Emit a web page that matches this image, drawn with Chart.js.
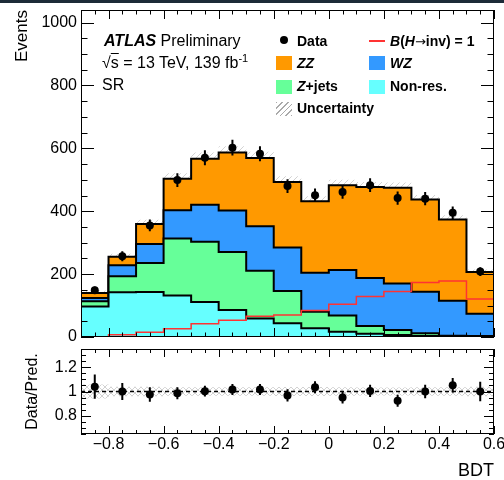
<!DOCTYPE html>
<html>
<head>
<meta charset="utf-8">
<script src="https://cdn.jsdelivr.net/npm/chart.js@4.4.1/dist/chart.umd.min.js"></script>
<style>
  body { margin: 0; background: #fff; }
  #wrap { position: relative; width: 504px; height: 480px; overflow: hidden; font-family: 'Liberation Sans', Arial, sans-serif; color: #000; background: #fff; }
  canvas { position: absolute; left: 0; }
  .txt { position: absolute; white-space: nowrap; font-size: 16px; line-height: 16px; }
  .leg { position: absolute; white-space: nowrap; font-size: 14px; line-height: 14px; font-weight: bold; }
  .box { position: absolute; width: 16px; height: 14px; }
  .arrow { font-family: 'DejaVu Sans', sans-serif; font-weight: normal; font-size: 13px; }
</style>
</head>
<body>
<div id="wrap">
  <canvas id="mainChart" width="504" height="350" style="top:0"></canvas>
  <canvas id="ratioChart" width="504" height="138" style="top:342px"></canvas>

  <div class="txt" style="left:104px;top:33px"><b><i>ATLAS</i></b> Preliminary</div>
  <div class="txt" style="left:102px;top:55px">√<span style="text-decoration:overline">s</span> = 13 TeV, 139 fb<sup style="font-size:11px;vertical-align:6px;line-height:0">-1</sup></div>
  <div class="txt" style="left:102px;top:77px">SR</div>

  <div style="position:absolute;left:280px;top:36px;width:8px;height:8px;border-radius:50%;background:#000"></div>
  <div class="leg" style="left:297px;top:34px">Data</div>
  <div style="position:absolute;left:369px;top:40px;width:16px;height:2px;background:#ff3333"></div>
  <div class="leg" style="left:390px;top:34px"><i>B</i>(<i>H</i><span class="arrow">→</span>inv) = 1</div>

  <div class="box" style="left:276px;top:56px;background:#ff9900"></div>
  <div class="leg" style="left:297px;top:56px"><i>ZZ</i></div>
  <div class="box" style="left:369px;top:56px;background:#3399ff"></div>
  <div class="leg" style="left:390px;top:56px"><i>WZ</i></div>

  <div class="box" style="left:276px;top:80px;background:#66ff99"></div>
  <div class="leg" style="left:297px;top:79px"><i>Z</i>+jets</div>
  <div class="box" style="left:369px;top:80px;background:#66ffff"></div>
  <div class="leg" style="left:390px;top:79px">Non-res.</div>

  <div class="box" style="left:276px;top:102px;background:repeating-linear-gradient(-45deg, #aaa 0 1px, transparent 1px 4px)"></div>
  <div class="leg" style="left:297px;top:101px">Uncertainty</div>

  <div style="position:absolute;left:0;top:0;width:504px;height:3px;background:#1c2b38"></div>
</div>
<script>
// bins of the BDT score
const binEdges = [-0.9, -0.8, -0.7, -0.6, -0.5, -0.4, -0.3, -0.2, -0.1, 0.0, 0.1, 0.2, 0.3, 0.4, 0.5, 0.6];
const binCenters = [-0.85, -0.75, -0.65, -0.55, -0.45, -0.35, -0.25, -0.15, -0.05, 0.05, 0.15, 0.25, 0.35, 0.45, 0.55];

// background components (events per bin), bottom of the stack first
const nonRes = [97, 142, 143, 132, 111, 86, 59, 44, 28, 17, 10, 6, 3, 2, 1];
const zJets  = [17, 51, 92, 181, 192, 184, 152, 102, 52, 51, 25, 16, 9, 2, 2];
const wzBkg  = [10, 35, 61, 90, 118, 132, 141, 139, 124, 145, 153, 148, 132, 111, 71];
const zzBkg  = [16, 27, 63, 100, 146, 185, 217, 208, 228, 270, 289, 305, 293, 259, 133];
const signal = [1, 7, 15, 26, 42, 53, 66, 70, 84, 104, 129, 145, 173, 178, 121];
const systUnc = [8, 10, 14, 18, 20, 20, 20, 18, 16, 17, 16, 16, 15, 13, 8];

// observed data
const dataY   = [149, 257, 355, 499, 570, 602, 583, 480, 451, 461, 483, 442, 440, 395, 208];
const dataErr = [12, 16, 19, 22, 24, 25, 24, 22, 21, 21, 22, 21, 21, 20, 14];

// ratio panel
const ratioY   = [1.04, 1.0, 0.976, 0.986, 1.003, 1.016, 1.016, 0.968, 1.035, 0.951, 1.005, 0.924, 1.0, 1.051, 1.0];
const ratioErr = [0.1, 0.07, 0.06, 0.05, 0.045, 0.045, 0.045, 0.05, 0.05, 0.05, 0.05, 0.05, 0.055, 0.06, 0.08];

// axis ticks
const eventTicks = [0, 200, 400, 600, 800, 1000];
const ratioTicks = [0.8, 1.0, 1.2];
const bdtTicks = [-0.8, -0.6, -0.4, -0.2, 0, 0.2, 0.4, 0.6];

Chart.defaults.font.family = "'Liberation Sans', Arial, sans-serif";
Chart.defaults.color = '#000';

// histogram values -> points on the bin edges (for stepped lines)
function steps(values) {
    return binEdges.map((x, i) => ({ x: x, y: values[Math.min(i, values.length - 1)] }));
}
function addUp(a, b) {
    return a.map((v, i) => v + b[i]);
}

const cumNonRes = nonRes;
const cumZJets = addUp(cumNonRes, zJets);
const cumWZ = addUp(cumZJets, wzBkg);
const cumZZ = addUp(cumWZ, zzBkg);
const relUnc = systUnc.map((u, i) => u / cumZZ[i]);

function makeHatch(cross) {
    const c = document.createElement('canvas');
    c.width = 6;
    c.height = 6;
    const g = c.getContext('2d');
    g.strokeStyle = '#b4b4b4';
    g.lineWidth = 0.6;
    g.beginPath();
    g.moveTo(0, 6); g.lineTo(6, 0);
    if (cross) {
        g.moveTo(0, 0); g.lineTo(6, 6);
    }
    g.stroke();
    return g.createPattern(c, 'repeat');
}

// vertical error bars for datasets carrying an "errors" array
const errorBars = {
    id: 'errorBars',
    afterDatasetsDraw(chart) {
        const ctx = chart.ctx;
        chart.data.datasets.forEach((ds, di) => {
            if (!ds.errors) return;
            const meta = chart.getDatasetMeta(di);
            const ys = chart.scales[meta.yAxisID];
            ctx.save();
            ctx.strokeStyle = '#000';
            ctx.lineWidth = 2;
            ctx.beginPath();
            meta.data.forEach((pt, i) => {
                const v = ds.data[i].y;
                const e = ds.errors[i];
                ctx.moveTo(pt.x, ys.getPixelForValue(v - e));
                ctx.lineTo(pt.x, ys.getPixelForValue(v + e));
            });
            ctx.stroke();
            ctx.restore();
        });
    }
};

// ROOT-like frame with inward tick marks on all four sides
const frameTicks = {
    id: 'frameTicks',
    afterDatasetsDraw(chart, args, o) {
        const { ctx, chartArea: a, scales: { x, y } } = chart;
        const isMajor = (v, step) => Math.abs(v / step - Math.round(v / step)) < 1e-6;
        ctx.save();
        ctx.strokeStyle = '#000';
        ctx.lineWidth = 1;
        ctx.beginPath();
        let k0 = Math.ceil(x.min / o.xMinor - 1e-6), k1 = Math.floor(x.max / o.xMinor + 1e-6);
        for (let k = k0; k <= k1; k++) {
            const v = k * o.xMinor;
            const px = Math.round(x.getPixelForValue(v)) + 0.5;
            const len = isMajor(v, o.xMajor) ? o.xLen : o.xLen / 2;
            ctx.moveTo(px, a.bottom); ctx.lineTo(px, a.bottom - len);
            ctx.moveTo(px, a.top); ctx.lineTo(px, a.top + len);
        }
        k0 = Math.ceil(y.min / o.yMinor - 1e-6);
        k1 = Math.floor(y.max / o.yMinor + 1e-6);
        for (let k = k0; k <= k1; k++) {
            const v = k * o.yMinor;
            const py = Math.round(y.getPixelForValue(v)) + 0.5;
            const len = isMajor(v, o.yMajor) ? o.yLen : o.yLen / 2;
            ctx.moveTo(a.left, py); ctx.lineTo(a.left + len, py);
            ctx.moveTo(a.right, py); ctx.lineTo(a.right - len, py);
        }
        ctx.stroke();
        ctx.strokeRect(Math.round(a.left) + 0.5, Math.round(a.top) + 0.5, Math.round(a.width) - 1, Math.round(a.height) - 1);
        ctx.restore();
    }
};

function stackSet(values, color, fill) {
    return {
        data: steps(values),
        stepped: 'before',
        borderColor: '#000',
        borderWidth: 2,
        backgroundColor: color,
        fill: fill,
        pointRadius: 0,
        order: 3
    };
}

const mainCtx = document.getElementById('mainChart');
new Chart(mainCtx, {
    type: 'line',
    data: {
        datasets: [
            stackSet(cumNonRes, '#66ffff', 'origin'),
            stackSet(cumZJets, '#66ff99', '-1'),
            stackSet(cumWZ, '#3399ff', '-1'),
            stackSet(cumZZ, '#ff9900', '-1'),
            {
                data: steps(addUp(cumZZ, systUnc)),
                stepped: 'before', borderWidth: 0, pointRadius: 0,
                backgroundColor: makeHatch(false), fill: '+1', order: 5
            },
            {
                data: steps(cumZZ.map((v, i) => v - systUnc[i])),
                stepped: 'before', borderWidth: 0, pointRadius: 0, fill: false, order: 5
            },
            {
                data: steps(signal),
                stepped: 'before', borderColor: '#ff3333', borderWidth: 1.5,
                pointRadius: 0, fill: false, order: 1
            },
            {
                data: binCenters.map((x, i) => ({ x: x, y: dataY[i] })),
                showLine: false, pointRadius: 4, pointBackgroundColor: '#000',
                pointBorderWidth: 0, errors: dataErr, order: 0
            }
        ]
    },
    options: {
        responsive: false,
        animation: false,
        layout: { padding: { top: 10, right: 10, bottom: 13, left: 0 } },
        plugins: {
            legend: { display: false },
            tooltip: { enabled: false },
            frameTicks: { xMajor: 0.2, xMinor: 0.05, xLen: 9, yMajor: 200, yMinor: 50, yLen: 13 }
        },
        scales: {
            x: { type: 'linear', min: -0.9, max: 0.6, display: false },
            y: {
                min: 0, max: 1040,
                afterBuildTicks: s => { s.ticks = eventTicks.map(v => ({ value: v })); },
                afterFit: s => { s.width = 81; s.paddingTop = 0; s.paddingBottom = 0; },
                grid: { display: false, drawTicks: false },
                border: { display: false },
                ticks: { padding: 4, font: { size: 16 }, color: '#000', callback: v => String(v) },
                title: { display: true, text: 'Events', align: 'end', font: { size: 17 }, padding: { top: 12, bottom: 0 }, color: '#000' }
            }
        }
    },
    plugins: [errorBars, frameTicks]
});

const ratioCtx = document.getElementById('ratioChart');
new Chart(ratioCtx, {
    type: 'line',
    data: {
        datasets: [
            {
                data: steps(relUnc.map(r => 1 + r)),
                stepped: 'before', borderWidth: 0, pointRadius: 0,
                backgroundColor: makeHatch(true), fill: '+1', order: 3
            },
            {
                data: steps(relUnc.map(r => 1 - r)),
                stepped: 'before', borderWidth: 0, pointRadius: 0, fill: false, order: 3
            },
            {
                data: [{ x: binEdges[0], y: 1 }, { x: binEdges[binEdges.length - 1], y: 1 }],
                borderColor: '#000', borderWidth: 1.5, borderDash: [4, 3],
                pointRadius: 0, fill: false, order: 1
            },
            {
                data: binCenters.map((x, i) => ({ x: x, y: ratioY[i] })),
                showLine: false, pointRadius: 4, pointBackgroundColor: '#000',
                pointBorderWidth: 0, errors: ratioErr, order: 0
            }
        ]
    },
    options: {
        responsive: false,
        animation: false,
        layout: { padding: { top: 7, right: 10, bottom: 0, left: 0 } },
        plugins: {
            legend: { display: false },
            tooltip: { enabled: false },
            frameTicks: { xMajor: 0.2, xMinor: 0.05, xLen: 8, yMajor: 0.2, yMinor: 0.05, yLen: 10 }
        },
        scales: {
            x: {
                type: 'linear', min: -0.9, max: 0.6,
                afterBuildTicks: s => { s.ticks = bdtTicks.map(v => ({ value: v })); },
                afterFit: s => { s.height = 46; s.paddingLeft = 0; s.paddingRight = 0; },
                grid: { display: false, drawTicks: false },
                border: { display: false },
                ticks: {
                    padding: 1, font: { size: 16 }, color: '#000', maxRotation: 0, autoSkip: false,
                    callback: v => Math.abs(v) < 1e-9 ? '0' : (v < 0 ? '\u2212' : '') + Math.abs(v).toFixed(1)
                },
                title: { display: true, text: 'BDT', align: 'end', font: { size: 18, lineHeight: 1 }, padding: 0, color: '#000' }
            },
            y: {
                min: 0.65, max: 1.35,
                afterBuildTicks: s => { s.ticks = ratioTicks.map(v => ({ value: v })); },
                afterFit: s => { s.width = 81; s.paddingTop = 0; s.paddingBottom = 0; },
                grid: { display: false, drawTicks: false },
                border: { display: false },
                ticks: { padding: 4, font: { size: 16 }, color: '#000', callback: v => String(+v.toFixed(2)) },
                title: { display: true, text: 'Data/Pred.', font: { size: 16 }, padding: { top: 23, bottom: 0 }, color: '#000' }
            }
        }
    },
    plugins: [errorBars, frameTicks]
});
</script>
</body>
</html>
